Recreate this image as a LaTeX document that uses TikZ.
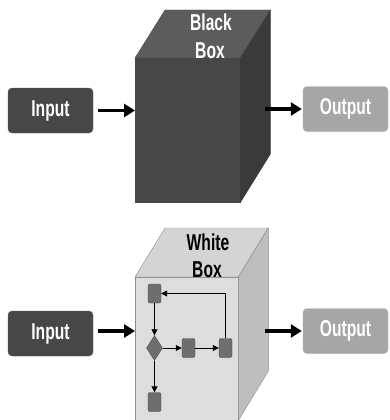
\documentclass[tikz,border=0pt]{standalone}
\usepackage{fontspec}
\setmainfont{Liberation Sans}
\newfontfamily\narrowfont[FakeStretch=0.68]{Liberation Sans}
\usetikzlibrary{arrows.meta,shapes.geometric}

\definecolor{darkface}{HTML}{474747}
\definecolor{darktop}{HTML}{5C5C5C}
\definecolor{darkside}{HTML}{3A3A3A}
\definecolor{lightface}{HTML}{DDDDDD}
\definecolor{lighttop}{HTML}{D4D4D4}
\definecolor{lightside}{HTML}{BEBEBE}
\definecolor{inputgray}{HTML}{474747}
\definecolor{outputgray}{HTML}{A6A6A6}
\definecolor{stepgray}{HTML}{6E6E6E}

\tikzset{
  iobox/.style = {fill=#1, draw=#1!85!white, rounded corners=4pt,
    minimum width=85pt, minimum height=45pt, inner sep=0pt,
    text=white, font=\narrowfont\bfseries\fontsize{23}{23}\selectfont},
  boxlabel/.style = {inner sep=0pt, font=\narrowfont\bfseries\fontsize{23}{23}\selectfont},
  bigarrow/.style = {line width=3.5pt, -{Triangle[length=11pt,width=13pt]}},
  stepbox/.style = {draw=black!70, fill=stepgray, rounded corners=2pt,
    minimum width=13pt, minimum height=19pt, inner sep=0pt},
  decision/.style = {draw=black!70, fill=stepgray, diamond, inner sep=0pt,
    minimum width=16pt, minimum height=25pt},
  flow/.style = {line width=0.8pt, -{Triangle[length=6pt,width=6pt]}}
}

\begin{document}
\begin{tikzpicture}[x=1pt, y=-1pt]
  \useasboundingbox (0,0) rectangle (389,420);

  % black box
  \node[draw=darkface, fill=darkface, minimum width=105pt, minimum height=144pt,
    inner sep=0pt, anchor=north west] (blackfront) at (135,58) {};
  \filldraw[fill=darktop, draw=darktop!80!black] (blackfront.north west) -- ++(30,-48)
    -- ++(105,0) -- (blackfront.north east) -- cycle;
  \filldraw[fill=darkside, draw=darkside] (blackfront.north east) -- ++(30,-48)
    -- ++(0,144) -- (blackfront.south east) -- cycle;
  \node[boxlabel, text=white] (blacktxt) at (211,22) {Black};
  \node[boxlabel, text=white] (blackbox) at (210,51) {Box};

  \node[iobox=inputgray] (input1) at (50.5,110.5) {Input};
  \node[iobox=outputgray] (output1) at (345.5,109) {Output};
  \draw[bigarrow, shorten <=5pt] (input1.east) -- (input1.east -| blackfront.west);
  \draw[bigarrow, shorten <=25pt, shorten >=1pt] (output1.west -| blackfront.east) -- (output1.west);

  % white box
  \node[draw=black!45, fill=lightface, minimum width=103pt, minimum height=143pt,
    inner sep=0pt, anchor=north west] (whitefront) at (135,277) {};
  \filldraw[fill=lighttop, draw=black!45] (whitefront.north west) -- ++(30,-49)
    -- ++(103,0) -- (whitefront.north east) -- cycle;
  \filldraw[fill=lightside, draw=black!45] (whitefront.north east) -- ++(30,-49)
    -- ++(0,143) -- (whitefront.south east) -- cycle;
  \node[boxlabel] (whitetxt) at (208,242) {White};
  \node[boxlabel] (whitebox) at (207,270) {Box};

  % inside the white box
  \node[stepbox] (s1) at (154.5,293.5) {};
  \node[decision] (dec) at (154.5,348) {};
  \node[stepbox] (s2) at (188.5,348) {};
  \node[stepbox] (s3) at (225.5,348) {};
  \node[stepbox] (s4) at (154.5,402) {};
  \draw[flow] (s1) -- (dec);
  \draw[flow] (dec) -- (s2);
  \draw[flow] (s2) -- (s3);
  \draw[flow] (s3) |- (s1);
  \draw[flow] (dec) -- (s4);

  \node[iobox=inputgray] (input2) at (50.5,333.5) {Input};
  \node[iobox=outputgray] (output2) at (345.5,331) {Output};
  \draw[bigarrow, shorten <=5pt] (input2.east |- output2.west) -- (output2.west -| whitefront.west);
  \draw[bigarrow, shorten <=27pt, shorten >=1pt] (output2.west -| whitefront.east) -- (output2.west);
\end{tikzpicture}
\end{document}
